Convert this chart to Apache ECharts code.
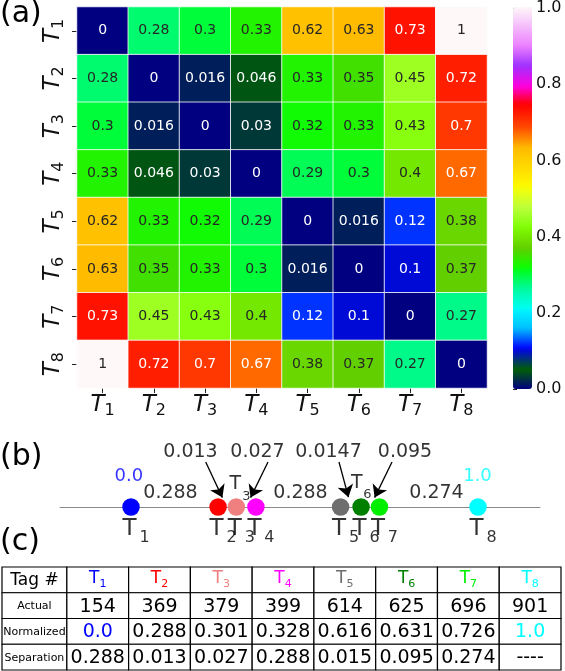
<!DOCTYPE html>
<html><head><meta charset="utf-8">
<script src="https://cdn.jsdelivr.net/npm/echarts@6/dist/echarts.min.js"></script>
<style>html,body{margin:0;padding:0;background:#fff}#c{width:565px;height:671px}</style>
</head><body><div id="c"></div>
<script>
// ---------------- DATA ----------------
const tagNums = ['1','2','3','4','5','6','7','8'];
const distMatrix = [
  [0,    0.28, 0.3,   0.33,  0.62,  0.63,  0.73, 1],
  [0.28, 0,    0.016, 0.046, 0.33,  0.35,  0.45, 0.72],
  [0.3,  0.016,0,     0.03,  0.32,  0.33,  0.43, 0.7],
  [0.33, 0.046,0.03,  0,     0.29,  0.3,   0.4,  0.67],
  [0.62, 0.33, 0.32,  0.29,  0,     0.016, 0.12, 0.38],
  [0.63, 0.35, 0.33,  0.3,   0.016, 0,     0.1,  0.37],
  [0.73, 0.45, 0.43,  0.4,   0.12,  0.1,   0,    0.27],
  [1,    0.72, 0.7,   0.67,  0.38,  0.37,  0.27, 0]
];
const colorbarMin = 0, colorbarMax = 1, colorbarStep = 0.2;
// (b) schematic positions of the tags on the number line (0 = T1, 1 = T8)
const dotPos = [0, 0.251, 0.3035, 0.360, 0.604, 0.663, 0.716, 1.0];
const tagColors = ['#0000ff','#ff0000','#f08080','#ff00ff','#6e6e6e','#007f00','#00ee00','#00ffff'];
const gapLabels = ['0.288','0.288','0.274'];
const arrowLabels = ['0.013','0.027','0.0147','0.095'];
const endLabels = ['0.0','1.0'];
const aboveTagIdx = [2, 5];   // T3 and T6 are labelled above their dots
// (c) table
const rowHeads = ['Tag #','Actual','Normalized','Separation'];
const actual = [154, 369, 379, 399, 614, 625, 696, 901];
const normalized = ['0.0','0.288','0.301','0.328','0.616','0.631','0.726','1.0'];
const separation = ['0.288','0.013','0.027','0.288','0.015','0.095','0.274','----'];

// ---------------- LAYOUT (not data) ----------------
const FF = 'DejaVu Sans';
const gapLabelPos = [[0.1138,14],[0.4885,14],[0.8804,14]];
const arrowTextPos = [[0.1715,55],[0.3646,55],[0.5692,55],[0.7896,55]];
const arrowLines = [[[0.2153,45],[0.2634,9.4]],[[0.3948,45],[0.3447,9.4]],[[0.5994,45],[0.6267,9.8]],[[0.7522,45],[0.7021,9.4]]];
const endLabelPos = [[-0.006,31],[0.9986,31]];
const endLabelColors = ['#0000ff','#00ffff'];
const aboveTOffset = [[-1,-22.5],[-4.3,-23.5]];
const aboveSubOffset = [[10,-10.5],[6.3,-12]];

// gist_ncar colormap (matplotlib segment data)
const NCAR = {
 r:[[0,0],[0.3098,0],[0.3725,0.3993],[0.4235,0.5003],[0.5333,1],[0.7922,1],[0.8471,0.6218],[0.898,0.9235],[1,0.9961]],
 g:[[0,0],[0.051,0.3722],[0.1059,0],[0.1569,0.7202],[0.1608,0.7537],[0.1647,0.7752],[0.2157,1],[0.2588,0.9804],[0.2706,0.9804],[0.3176,1],[0.3686,0.8081],[0.4275,1],[0.5216,1],[0.6314,0.7292],[0.6863,0.2796],[0.7451,0],[0.7922,0],[0.8431,0.1753],[0.898,0.5],[1,0.9725]],
 b:[[0,0.502],[0.051,0.0222],[0.1098,1],[0.2039,1],[0.2627,0.6145],[0.3216,0],[0.4157,0],[0.4745,0.2342],[0.5333,0],[0.5804,0],[0.6314,0],[0.6863,0],[0.7451,0],[0.7922,0.8718],[0.8471,1],[0.898,1],[1,0.9725]]
};
function interp(tab, x){
  for (let i=1;i<tab.length;i++){ if (x<=tab[i][0]){ const a=tab[i-1], b=tab[i]; return a[1]+(b[1]-a[1])*(x-a[0])/(b[0]-a[0]); } }
  return tab[tab.length-1][1];
}
function ncar(v){ return [interp(NCAR.r,v),interp(NCAR.g,v),interp(NCAR.b,v)]; }
function toHex(rgb){ return '#'+rgb.map(c=>Math.round(c*255).toString(16).padStart(2,'0')).join(''); }
function lum(rgb){ const f=c=>c<=0.03928?c/12.92:Math.pow((c+0.055)/1.055,2.4); return 0.2126*f(rgb[0])+0.7152*f(rgb[1])+0.0722*f(rgb[2]); }
const rampColors = []; for (let i=0;i<=256;i++) rampColors.push(toHex(ncar(i/256)));

// heatmap data
const heatData = [];
distMatrix.forEach((row, r) => row.forEach((v, c) => {
  heatData.push({ value:[c, r, v], label:{ color: lum(ncar(v)) < 0.408 ? '#ffffff' : '#262626' } });
}));
const tagCats = tagNums.map(n => 'T' + n);
const italicRich = {
  t:{ fontFamily:FF, fontStyle:'italic', fontSize:23, lineHeight:23, verticalAlign:'bottom', padding:[0,0,2,0], color:'#111' },
  s:{ fontFamily:FF, fontSize:16, lineHeight:16, verticalAlign:'bottom', color:'#111' }
};
const tagFmt = v => '{t|T}{s|' + v.slice(1) + '}';

// table cells
const colW = [1.05,1,1,1,1,1,1,1,1];
const colEdges = [0]; colW.forEach(w => colEdges.push(colEdges[colEdges.length-1]+w));
const tableCells = [];
rowHeads.forEach((h, r) => {
  tableCells.push({col:0,row:r,text:h,fontSize: r===0?17:11,color:'#000'});
});
tagNums.forEach((n, i) => {
  const col = i+1, clr = tagColors[i];
  tableCells.push({col, row:0, text:'{t|T}{s|'+n+'}', rich:{
    t:{fill:clr, fontFamily:FF, fontSize:17, lineHeight:17, verticalAlign:'bottom', padding:[0,0,2,0]},
    s:{fill:clr, fontFamily:FF, fontSize:11, lineHeight:11, verticalAlign:'bottom'}}});
  tableCells.push({col, row:1, text:String(actual[i]), fontSize:19, color:'#000'});
  tableCells.push({col, row:2, text:normalized[i], fontSize:19, color: i===0 ? '#0000ff' : (i===7 ? '#00ffff' : '#000')});
  tableCells.push({col, row:3, text:separation[i], fontSize:19, color:'#000'});
});

// annotation items for (b)
const annItems = [];
gapLabels.forEach((t,i)=>annItems.push({value:gapLabelPos[i], label:{formatter:t, fontSize:19, color:'#000'}}));
arrowLabels.forEach((t,i)=>annItems.push({value:arrowTextPos[i], label:{formatter:t, fontSize:19, color:'#000'}}));
endLabels.forEach((t,i)=>annItems.push({value:endLabelPos[i], label:{formatter:t, fontSize:18, color:endLabelColors[i]}}));

// tag name labels (T + subscript drawn as two labels)
const tagTItems = [], tagSubItems = [];
dotPos.forEach((x,i)=>{
  const a = aboveTagIdx.indexOf(i);
  tagTItems.push({value:[x,0], label:{formatter:'T', fontSize:23, offset:[-1.5,22.5]}});
  tagSubItems.push({value:[x,0], label:{formatter:tagNums[i], fontSize:16, offset:[13.5,31]}});
  if (a >= 0) {
    tagTItems.push({value:[x,0], label:{formatter:'T', fontSize:19, offset:aboveTOffset[a]}});
    tagSubItems.push({value:[x,0], label:{formatter:tagNums[i], fontSize:13, offset:aboveSubOffset[a]}});
  }
});

const chart = echarts.init(document.getElementById('c'));
chart.setOption({
  animation:false,
  backgroundColor:'#fff',
  textStyle:{fontFamily:FF},
  graphic:[
    {type:'text', left:0, top:-1, style:{text:'(a)', font:'30px "DejaVu Sans"', fill:'#000'}},
    {type:'text', left:0, top:442, style:{text:'(b)', font:'30px "DejaVu Sans"', fill:'#000'}},
    {type:'text', left:0, top:527, style:{text:'(c)', font:'30px "DejaVu Sans"', fill:'#000'}}
  ],
  grid:[
    {left:77, top:7, width:410, height:381},
    {left:60, top:447, width:480, height:120},
    {left:2, top:567, width:559, height:103},
    {left:513, top:7, width:19, height:382}
  ],
  xAxis:[
    {gridIndex:0, type:'category', data:tagCats, position:'bottom',
     axisLine:{show:false}, axisTick:{show:true, alignWithLabel:true, length:5, lineStyle:{color:'#222'}},
     axisLabel:{interval:0, formatter:tagFmt, rich:italicRich, margin:8}, splitLine:{show:false}},
    {gridIndex:1, type:'value', min:-0.2046, max:1.1787,
     axisLine:{show:true, onZero:true, lineStyle:{color:'#8a8a8a', width:1}}, axisTick:{show:false}, axisLabel:{show:false}, splitLine:{show:false}},
    {gridIndex:2, type:'value', min:0, max:colEdges[colEdges.length-1], show:false},
    {gridIndex:3, type:'value', min:0, max:1, show:false}
  ],
  yAxis:[
    {gridIndex:0, type:'category', data:tagCats, inverse:true,
     axisLine:{show:false}, axisTick:{show:true, alignWithLabel:true, length:5, lineStyle:{color:'#222'}},
     axisLabel:{interval:0, formatter:tagFmt, rich:italicRich, rotate:90, margin:10}, splitLine:{show:false}},
    {gridIndex:1, type:'value', min:-60, max:60, show:false},
    {gridIndex:2, type:'value', min:0, max:4, inverse:true, show:false},
    {gridIndex:3, type:'value', position:'right', min:colorbarMin, max:colorbarMax, interval:colorbarStep,
     axisLine:{show:false}, axisTick:{show:true, length:4, lineStyle:{color:'#222'}},
     axisLabel:{fontSize:16, color:'#111', margin:4, formatter:v=>v.toFixed(1)}, splitLine:{show:false}}
  ],
  visualMap:[{
    type:'continuous', min:colorbarMin, max:colorbarMax, seriesIndex:0, dimension:2,
    calculable:false, hoverLink:false, show:true, left:513, top:7, itemWidth:19, itemHeight:382,
    padding:0, text:null, inRange:{color:rampColors}
  }],
  series:[
    {type:'heatmap', xAxisIndex:0, yAxisIndex:0, data:heatData,
     label:{show:true, fontSize:14, fontFamily:FF, formatter:p=>String(p.value[2])},
     itemStyle:{borderColor:'rgba(255,255,255,0.8)', borderWidth:1}, emphasis:{disabled:true}},
    {type:'scatter', xAxisIndex:1, yAxisIndex:1, symbolSize:17.5, z:3,
     data:dotPos.map((x,i)=>({value:[x,0], itemStyle:{color:tagColors[i], opacity:1}})),
     emphasis:{disabled:true}},
    {type:'line', xAxisIndex:1, yAxisIndex:1, z:4, data:[], color:'#000', itemStyle:{color:'#000'}, lineStyle:{color:'#000'},
     markLine:{silent:true, symbol:['none','arrow'], symbolSize:12, precision:6,
       itemStyle:{color:'#000', opacity:1},
       lineStyle:{color:'#000', width:1.3, type:'solid', opacity:1}, label:{show:false},
       data:arrowLines.map(l=>[{coord:l[0], symbol:'none'},{coord:l[1], symbol:'arrow', symbolSize:12}])}},
    {type:'scatter', xAxisIndex:1, yAxisIndex:1, symbolSize:1, z:5, itemStyle:{color:'rgba(0,0,0,0)'},
     data:tagTItems, label:{show:true, position:'inside', fontFamily:FF, color:'#000'}, emphasis:{disabled:true}},
    {type:'scatter', xAxisIndex:1, yAxisIndex:1, symbolSize:1, z:5, itemStyle:{color:'rgba(0,0,0,0)'},
     data:tagSubItems, label:{show:true, position:'inside', fontFamily:FF, color:'#000'}, emphasis:{disabled:true}},
    {type:'scatter', xAxisIndex:1, yAxisIndex:1, symbolSize:1, z:5, itemStyle:{color:'rgba(0,0,0,0)'},
     data:annItems, label:{show:true, position:'inside', fontFamily:FF}, emphasis:{disabled:true}},
    {type:'custom', xAxisIndex:2, yAxisIndex:2, data:tableCells.map(c=>[c.col,c.row]),
     renderItem:function(params, api){
       const cell = tableCells[params.dataIndex];
       const p0 = api.coord([colEdges[cell.col], cell.row]);
       const p1 = api.coord([colEdges[cell.col+1], cell.row+1]);
       const style = cell.rich ? {text:cell.text, rich:cell.rich, align:'center', verticalAlign:'middle'}
                               : {text:cell.text, fill:cell.color, fontSize:cell.fontSize, fontFamily:FF, align:'center', verticalAlign:'middle'};
       return {type:'group', children:[
         {type:'rect', shape:{x:p0[0], y:p0[1], width:p1[0]-p0[0], height:p1[1]-p0[1]}, style:{fill:'#fff', stroke:'#000', lineWidth:1.2}},
         {type:'text', x:(p0[0]+p1[0])/2, y:(p0[1]+p1[1])/2+1, style:style}
       ]};
     }}
  ]
});
</script></body></html>
